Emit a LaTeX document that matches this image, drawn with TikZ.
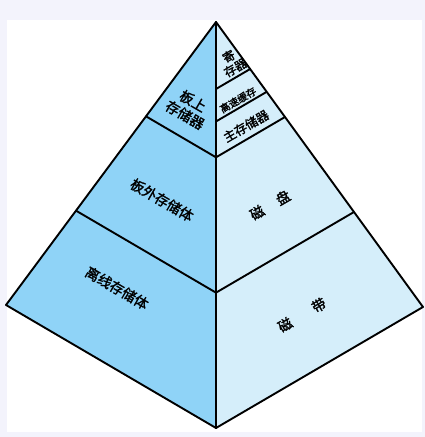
\documentclass[tikz,border=0pt]{standalone}
\usepackage{fontspec}
\newfontfamily\cjk[AutoFakeBold=1.6]{Noto Sans CJK SC}
\usetikzlibrary{calc}
\definecolor{leftface}{HTML}{8FD3F7}
\definecolor{rightface}{HTML}{D5EEFA}
\definecolor{backdrop}{HTML}{F3F3FC}
\tikzset{
  edge/.style={line width=1.9pt,line join=round},
  lbl/.style={inner sep=0pt,align=center}
}
\begin{document}
\begin{tikzpicture}[x=1pt,y=1pt]
\fill[backdrop] (0,0) rectangle (425,437);
\fill[white] (7,5) rectangle (422,417);
\useasboundingbox (0,0) rectangle (425,437);
% corners of the pyramid
\coordinate (apex) at (216,415);
\coordinate (west) at (6,132);
\coordinate (front) at (216,9);
\coordinate (east) at (423,130);
% faces
\draw[edge,fill=leftface] (apex) -- (west) -- (front) -- cycle;
\draw[edge,fill=rightface] (apex) -- (front) -- (east) -- cycle;
% levels
\draw[edge] ($(apex)!1/3!(west)$) -- ($(apex)!1/3!(front)$) -- ($(apex)!1/3!(east)$);
\draw[edge] ($(apex)!2/3!(west)$) -- ($(apex)!2/3!(front)$) -- ($(apex)!2/3!(east)$);
\draw[edge] ($(apex)!0.165!(front)$) -- ($(apex)!0.165!(east)$);
\draw[edge] ($(apex)!0.245!(front)$) -- ($(apex)!0.245!(east)$);
% labels
\node[lbl,font=\cjk\bfseries\fontsize{14}{16}\selectfont,rotate=-30] (onboard) at (189,329) {板上\\存储器};
\node[lbl,font=\cjk\bfseries\fontsize{12}{13}\selectfont,rotate=30] (register) at (232,375) {寄\\存器};
\node[lbl,font=\cjk\bfseries\fontsize{10}{11}\selectfont,rotate=30] (cache) at (238,337) {高速缓存};
\node[lbl,font=\cjk\bfseries\fontsize{12.5}{14}\selectfont,rotate=30] (mainmem) at (246,311) {主存储器};
\node[lbl,font=\cjk\bfseries\fontsize{14}{16}\selectfont,rotate=-30] (offboard) at (162,237) {板外存储体};
\node[lbl,font=\cjk\bfseries\fontsize{14}{16}\selectfont,rotate=30] (disk) at (270,232) {磁\hspace{16pt}盘};
\node[lbl,font=\cjk\bfseries\fontsize{14}{16}\selectfont,rotate=-30] (offline) at (117,149) {离线存储体};
\node[lbl,font=\cjk\bfseries\fontsize{14}{16}\selectfont,rotate=30] (tape) at (302,122) {磁\hspace{25pt}带};
\end{tikzpicture}
\end{document}
